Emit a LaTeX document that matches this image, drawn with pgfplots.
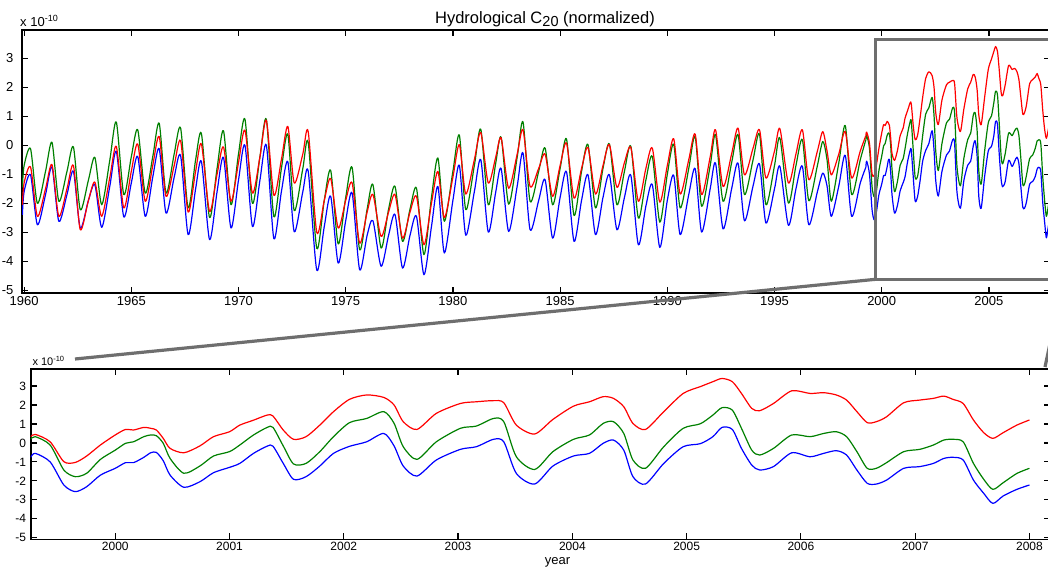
\documentclass[border=0pt]{standalone}
\usepackage{pgfplots}
\pgfplotsset{compat=1.18}
\usepackage{pgfplotstable}
\usepackage{fontspec}
\setmainfont{Liberation Sans}
\definecolor{mred}{RGB}{255,0,0}
\definecolor{mgreen}{RGB}{0,128,0}
\definecolor{mblue}{RGB}{0,0,255}
\definecolor{boxgray}{RGB}{110,110,110}

\pgfplotstableread{
t R G B
1959.92 -2.05 -1.45 -2.40
1960.00 -1.30 -0.70 -1.60
1960.30 -0.75 -0.12 -1.02
1960.62 -2.45 -2.00 -2.74
1961.00 -1.50 -0.90 -1.70
1961.30 -0.67 0.10 -0.75
1961.62 -2.45 -1.93 -2.62
1962.00 -1.50 -0.90 -1.70
1962.30 -0.70 -0.06 -0.90
1962.62 -2.91 -2.22 -2.85
1963.00 -1.90 -1.20 -1.90
1963.30 -1.27 -0.42 -1.36
1963.62 -2.45 -2.05 -2.83
1964.00 -1.10 -0.50 -1.40
1964.30 -0.04 0.80 -0.21
1964.65 -2.16 -1.70 -2.47
1965.00 -0.90 -0.40 -1.30
1965.30 0.04 0.53 -0.39
1965.65 -1.93 -1.65 -2.45
1966.00 -0.70 -0.40 -1.10
1966.30 0.30 0.76 -0.12
1966.62 -1.76 -1.65 -2.34
1967.00 -0.70 -0.30 -1.10
1967.30 0.15 0.59 -0.36
1967.65 -2.30 -2.16 -3.08
1968.00 -0.90 -0.50 -1.50
1968.27 0.04 0.40 -0.56
1968.65 -2.28 -2.49 -3.25
1969.00 -1.00 -0.80 -1.60
1969.30 -0.06 0.50 -0.42
1969.65 -1.93 -2.05 -2.85
1970.00 -0.60 -0.30 -1.20
1970.30 0.52 0.90 0.00
1970.65 -1.65 -2.00 -2.80
1971.00 -0.40 -0.40 -1.20
1971.30 0.86 0.89 0.00
1971.65 -1.72 -2.46 -3.22
1972.00 -0.50 -0.80 -1.60
1972.30 0.65 0.38 -0.57
1972.60 -1.30 -2.25 -2.98
1973.00 -0.30 -0.80 -1.60
1973.25 0.47 0.10 -0.89
1973.65 -3.00 -3.55 -4.30
1974.00 -1.90 -1.90 -2.80
1974.30 -1.15 -0.87 -1.76
1974.65 -2.85 -3.40 -4.06
1975.00 -1.90 -1.80 -2.60
1975.30 -1.30 -0.77 -1.65
1975.65 -3.37 -3.60 -4.29
1976.00 -2.30 -2.20 -3.10
1976.27 -1.70 -1.36 -2.60
1976.65 -3.14 -3.54 -4.17
1977.00 -2.30 -2.20 -3.10
1977.30 -1.70 -1.42 -2.39
1977.65 -3.20 -3.31 -4.23
1978.00 -2.30 -2.20 -3.10
1978.30 -1.76 -1.48 -2.45
1978.65 -3.43 -3.77 -4.46
1979.00 -2.00 -1.80 -2.80
1979.30 -0.90 -0.44 -1.42
1979.60 -2.50 -2.62 -3.71
1980.00 -1.10 -0.90 -1.90
1980.30 0.02 0.35 -0.69
1980.60 -1.68 -2.22 -3.10
1981.00 -0.50 -0.70 -1.60
1981.30 0.44 0.55 -0.50
1981.65 -1.30 -2.05 -2.99
1982.00 -0.40 -0.60 -1.60
1982.25 0.25 0.27 -0.81
1982.60 -1.48 -2.03 -2.97
1983.00 -0.30 -0.40 -1.40
1983.27 0.53 0.80 -0.27
1983.60 -1.42 -1.93 -2.91
1984.00 -0.80 -0.90 -1.90
1984.30 -0.31 -0.10 -1.19
1984.65 -1.76 -2.05 -3.20
1985.00 -0.70 -0.80 -1.80
1985.30 0.07 0.21 -0.92
1985.65 -1.82 -2.42 -3.31
1986.00 -0.80 -0.90 -1.90
1986.30 -0.08 0.02 -1.02
1986.65 -1.68 -2.16 -3.08
1987.00 -0.70 -0.80 -1.80
1987.30 0.02 0.04 -1.02
1987.65 -1.45 -2.05 -2.91
1988.00 -0.60 -0.90 -1.80
1988.30 -0.08 -0.04 -1.04
1988.65 -1.93 -2.51 -3.43
1989.00 -0.80 -1.20 -2.10
1989.30 -0.10 -0.39 -1.36
1989.65 -1.96 -2.65 -3.52
1990.00 -0.70 -1.00 -1.90
1990.30 0.22 0.03 -1.04
1990.60 -1.68 -2.16 -3.08
1991.00 -0.50 -0.80 -1.70
1991.30 0.38 0.30 -0.81
1991.60 -1.70 -2.10 -2.99
1992.00 -0.40 -0.70 -1.50
1992.25 0.53 0.36 -0.62
1992.60 -1.42 -1.93 -2.88
1993.00 -0.30 -0.60 -1.50
1993.30 0.59 0.36 -0.62
1993.60 -1.02 -1.70 -2.60
1994.00 -0.10 -0.50 -1.40
1994.30 0.53 0.38 -0.65
1994.60 -1.13 -2.05 -2.68
1995.00 -0.20 -0.70 -1.50
1995.25 0.57 0.25 -0.73
1995.65 -1.30 -1.99 -2.76
1996.00 -0.30 -0.70 -1.50
1996.30 0.53 0.19 -0.73
1996.60 -1.19 -1.91 -2.74
1997.00 -0.20 -0.70 -1.60
1997.25 0.47 0.13 -0.96
1997.45 -0.20 -0.50 -1.40
1997.65 -1.02 -1.93 -2.45
1998.00 -0.30 -0.60 -1.40
1998.30 0.47 0.68 -0.35
1998.60 -1.13 -1.70 -2.45
1999.00 -0.20 -0.50 -1.30
1999.26 0.33 0.19 -0.76
}\early

\pgfplotstableread{
t R G B
1999.26 0.33 0.19 -0.76
1999.30 0.45 0.33 -0.55
1999.43 0.06 -0.11 -1.00
1999.55 -0.99 -1.43 -2.22
1999.65 -1.03 -1.78 -2.57
1999.75 -0.69 -1.60 -2.31
1999.87 -0.11 -0.87 -1.70
2000.00 0.42 -0.38 -1.34
2000.09 0.71 -0.02 -1.04
2000.16 0.68 0.06 -1.04
2000.25 0.82 0.33 -0.76
2000.31 0.77 0.42 -0.52
2000.36 0.68 0.38 -0.50
2000.42 0.24 -0.02 -0.94
2000.48 -0.29 -0.82 -1.70
2000.60 -0.52 -1.60 -2.34
2000.74 -0.16 -1.22 -2.05
2000.86 0.33 -0.69 -1.57
2001.00 0.59 -0.46 -1.29
2001.09 0.94 -0.11 -1.08
2001.21 1.20 0.42 -0.55
2001.33 1.47 0.82 -0.17
2001.38 1.42 0.82 -0.17
2001.47 0.68 -0.16 -1.08
2001.56 0.19 -1.11 -1.92
2001.67 0.33 -1.08 -1.78
2001.79 0.94 -0.46 -1.22
2001.91 1.65 0.33 -0.55
2002.05 2.30 1.07 -0.18
2002.20 2.53 1.29 0.06
2002.35 2.40 1.65 0.50
2002.44 2.00 1.03 -0.16
2002.52 1.12 -0.20 -1.22
2002.64 0.71 -0.87 -1.75
2002.81 1.56 0.06 -0.90
2003.02 2.08 0.77 -0.34
2003.16 2.17 0.89 -0.20
2003.31 2.23 1.29 0.19
2003.40 2.12 1.12 0.06
2003.51 0.94 -0.73 -1.61
2003.67 0.47 -1.40 -2.17
2003.83 1.24 -0.46 -1.22
2004.01 1.94 0.19 -0.69
2004.15 2.17 0.42 -0.55
2004.27 2.44 1.03 -0.02
2004.36 2.35 1.12 0.15
2004.45 1.91 0.50 -0.38
2004.53 1.03 -0.90 -1.78
2004.64 0.71 -1.34 -2.17
2004.80 1.65 -0.20 -1.08
2004.97 2.61 0.77 -0.20
2005.12 2.97 1.01 -0.04
2005.23 3.23 1.47 0.33
2005.31 3.40 1.86 0.82
2005.40 3.23 1.73 0.71
2005.48 2.61 0.77 -0.29
2005.57 1.82 -0.38 -1.17
2005.64 1.70 -0.64 -1.43
2005.76 2.08 -0.29 -1.25
2005.92 2.75 0.42 -0.52
2006.08 2.61 0.33 -0.73
2006.20 2.65 0.50 -0.55
2006.31 2.53 0.59 -0.41
2006.40 2.26 0.33 -0.64
2006.49 1.65 -0.46 -1.43
2006.58 1.07 -1.34 -2.13
2006.66 1.12 -1.34 -2.17
2006.75 1.38 -1.04 -1.96
2006.90 2.12 -0.46 -1.34
2007.04 2.26 -0.34 -1.25
2007.16 2.35 -0.11 -1.08
2007.25 2.47 0.15 -0.82
2007.33 2.30 0.19 -0.76
2007.42 2.08 0.06 -0.90
2007.51 1.21 -1.08 -1.96
2007.60 0.54 -1.92 -2.66
2007.68 0.24 -2.45 -3.19
2007.77 0.54 -2.10 -2.80
2007.89 0.94 -1.61 -2.45
2008.00 1.21 -1.34 -2.22
}\recent

\pgfplotsset{
  mstyle/.style={
    scale only axis,
    anchor=south west,
    axis line style={line width=1.6pt},
    tick style={line width=1.2pt, black},
    major tick length=6pt,
    tick align=inside,
    ytick={-5,-4,...,3},
    /pgf/number format/assume math mode=true,
    /pgf/number format/1000 sep={},
    every axis plot/.append style={line width=1.2pt, line join=round, smooth, tension=0.45},
  }
}

\begin{document}
\begin{tikzpicture}[x=1pt,y=1pt]
\useasboundingbox (0,0) rectangle (1048,570);

% top axis
\begin{axis}[mstyle,
  at={(22pt,277pt)}, width=1027.5pt, height=263pt,
  xmin=1959.902, xmax=2007.826, ymin=-5.09, ymax=3.97,
  xtick={1960,1965,...,2005},
  tick label style={font=\fontsize{13}{15}\selectfont},
  yticklabel style={xshift=-5pt},
]
\addplot[mblue] table[x=t,y=B] {\early};
\addplot[mblue] table[x=t,y=B] {\recent};
\addplot[mgreen] table[x=t,y=G] {\early};
\addplot[mgreen] table[x=t,y=G] {\recent};
\addplot[mred] table[x=t,y=R] {\early};
\addplot[mred] table[x=t,y=R] {\recent};
\end{axis}

% bottom axis
\begin{axis}[mstyle,
  at={(30.7pt,30.7pt)}, width=1018.8pt, height=170.3pt,
  xmin=1999.26, xmax=2008.176, ymin=-5.085, ymax=3.9,
  xtick={2000,2001,...,2008},
  tick label style={font=\fontsize{12}{14}\selectfont},
  yticklabel style={xshift=-1pt},
  xticklabel style={yshift=1pt},
]
\addplot[mblue] table[x=t,y=B] {\recent};
\addplot[mgreen] table[x=t,y=G] {\recent};
\addplot[mred] table[x=t,y=R] {\recent};
\end{axis}

% texts
\node[anchor=base, font=\fontsize{16.5}{19}\selectfont, inner sep=0pt] at (545,546.7)
  {Hydrological C\raisebox{-3pt}{\fontsize{14.5}{16}\selectfont 20} (normalized)};
\node[anchor=base west, font=\fontsize{13}{15}\selectfont, inner sep=0pt] at (20,543)
  {x 10\raisebox{5.5pt}{\fontsize{9}{10}\selectfont -10}};
\node[anchor=base west, font=\fontsize{11}{13}\selectfont, inner sep=0pt] at (32.3,204)
  {x 10\raisebox{4.5pt}{\fontsize{7.5}{9}\selectfont -10}};
\node[anchor=base, font=\fontsize{13}{15}\selectfont, inner sep=0pt] at (557.5,6) {year};

% zoom box and connectors
\draw[boxgray, line width=3.3pt] (1065,290.7) -- (875.7,290.7) -- (875.7,530.7) -- (1065,530.7);
\draw[boxgray, line width=3.2pt] (875.7,290.7) -- (75,211);
\draw[boxgray, line width=3.2pt] (1063.5,290) -- (1045,203);
\end{tikzpicture}
\end{document}
